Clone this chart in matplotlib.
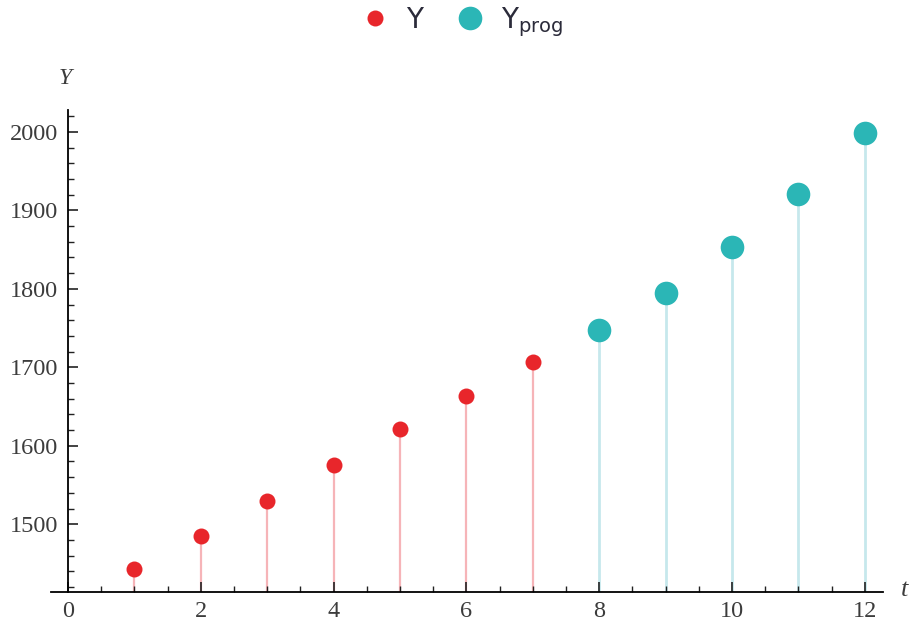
import matplotlib
matplotlib.use("Agg")
import matplotlib.pyplot as plt
from matplotlib.lines import Line2D
from matplotlib.ticker import MultipleLocator

# observed values
t_obs = [1, 2, 3, 4, 5, 6, 7]
y_obs = [1443, 1485, 1529, 1575, 1621, 1663, 1707]

# forecast values
t_prog = [8, 9, 10, 11, 12]
y_prog = [1748, 1795, 1854, 1921, 1999]

red = "#E8262B"
teal = "#2BB6B6"
red_stem = "#F6B4B8"
teal_stem = "#C6E8EC"

ybase = 1414

fig = plt.figure(figsize=(9.16, 6.27), dpi=100)
ax = fig.add_axes([50.7 / 916, 35.3 / 627, 832 / 916, 481.7 / 627])

ax.vlines(t_obs, ybase, y_obs, color=red_stem, lw=1.6, zorder=1)
ax.vlines(t_prog, ybase, y_prog, color=teal_stem, lw=2.0, zorder=1)
ax.plot(t_obs, y_obs, "o", color=red, ms=11.5, mec="none", zorder=3)
ax.plot(t_prog, y_prog, "o", color=teal, ms=17, mec="none", zorder=3)

ax.set_xlim(-0.26, 12.27)
ax.set_ylim(ybase, 2028)

for s in ["top", "right"]:
    ax.spines[s].set_visible(False)
ax.spines["left"].set_position(("data", 0))
ax.spines["left"].set_linewidth(1.3)
ax.spines["bottom"].set_linewidth(1.3)

ax.xaxis.set_major_locator(MultipleLocator(2))
ax.xaxis.set_minor_locator(MultipleLocator(0.5))
ax.yaxis.set_major_locator(MultipleLocator(100))
ax.yaxis.set_minor_locator(MultipleLocator(20))
ax.set_yticks([1500, 1600, 1700, 1800, 1900, 2000])

ax.tick_params(which="major", direction="in", length=7, width=1.2, colors="#222222",
               labelcolor="#3C3C3C", labelsize=17.5, pad=7)
ax.tick_params(which="minor", direction="in", length=4, width=1.0, colors="#222222")
for lab in ax.get_xticklabels() + ax.get_yticklabels():
    lab.set_family("Liberation Serif")

fig.text(65 / 916, 1 - 78 / 627, "Y", ha="center", va="center", fontsize=17,
         style="italic", family="Liberation Serif", color="#3C3C3C")
fig.text(905 / 916, 1 - 590 / 627, "t", ha="center", va="center", fontsize=19,
         style="italic", family="Liberation Serif", color="#3C3C3C")

handles = [
    Line2D([], [], ls="none", marker="o", color=red, ms=11.5, mec="none"),
    Line2D([], [], ls="none", marker="o", color=teal, ms=17, mec="none"),
]
fig.legend(handles, ["Y", r"Y$_{\mathsf{prog}}$"], loc="center", ncol=2,
           bbox_to_anchor=(0.5, 1 - 22 / 627), frameon=False, fontsize=20,
           handlelength=1.6, handletextpad=0.3, columnspacing=0.9,
           labelcolor="#2B2B3A")

fig.savefig("out.png", dpi=100)
